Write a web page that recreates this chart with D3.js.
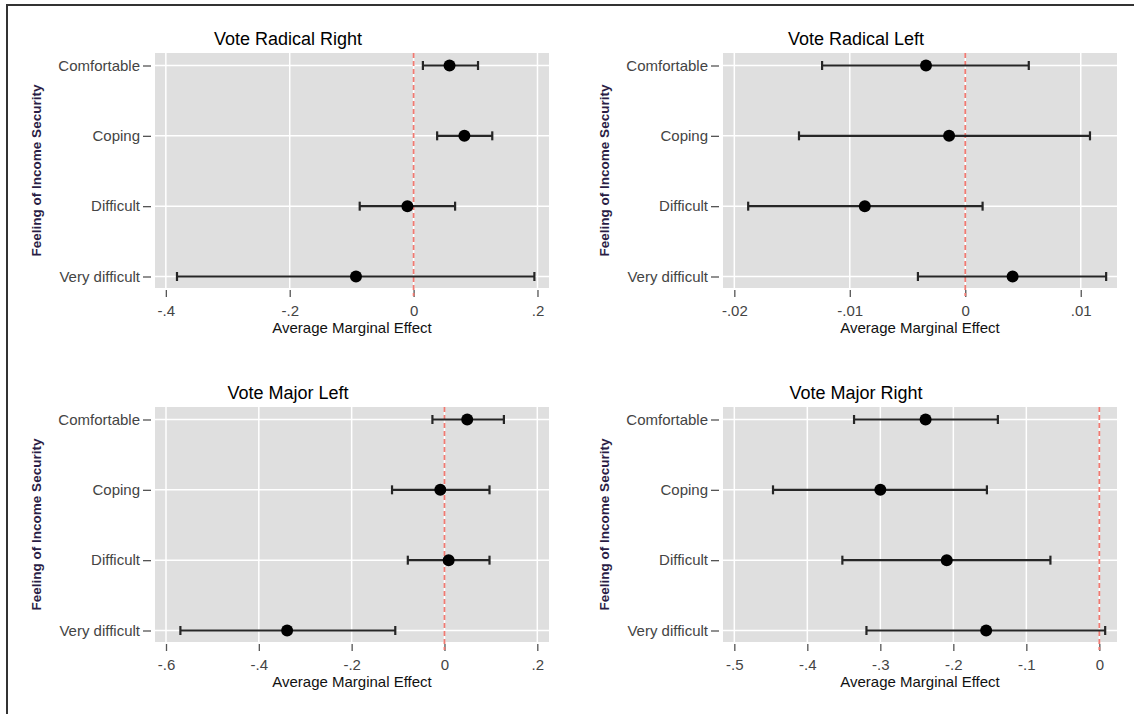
<!DOCTYPE html>
<html>
<head>
<meta charset="utf-8">
<script src="https://cdn.jsdelivr.net/npm/d3@7"></script>
<style>
  html, body { margin: 0; padding: 0; background: #fff; }
  svg { display: block; font-family: "Liberation Sans", Arial, sans-serif; }
</style>
</head>
<body>
<svg id="chart" width="1134" height="714"></svg>
<script>
// ---------- data ----------
const categories = ["Comfortable", "Coping", "Difficult", "Very difficult"];
const panelTitles = ["Vote Radical Right", "Vote Radical Left", "Vote Major Left", "Vote Major Right"];
const yAxisTitle = "Feeling of Income Security";
const xAxisTitle = "Average Marginal Effect";

// Vote Radical Right
const rrEst = [0.058, 0.082, -0.010, -0.093];
const rrLo  = [0.015, 0.038, -0.087, -0.382];
const rrHi  = [0.104, 0.127, 0.067, 0.195];
const rrTicks = [-0.4, -0.2, 0, 0.2];
const rrTickLabels = ["-.4", "-.2", "0", ".2"];
const rrDomain = [-0.4175, 0.2186];

// Vote Radical Left
const rlEst = [-0.0034, -0.0014, -0.0087, 0.0041];
const rlLo  = [-0.0124, -0.0144, -0.0188, -0.0041];
const rlHi  = [0.0055, 0.0108, 0.0015, 0.0122];
const rlTicks = [-0.02, -0.01, 0, 0.01];
const rlTickLabels = ["-.02", "-.01", "0", ".01"];
const rlDomain = [-0.02098, 0.01314];

// Vote Major Left
const mlEst = [0.049, -0.009, 0.009, -0.339];
const mlLo  = [-0.026, -0.113, -0.079, -0.569];
const mlHi  = [0.128, 0.097, 0.097, -0.106];
const mlTicks = [-0.6, -0.4, -0.2, 0, 0.2];
const mlTickLabels = ["-.6", "-.4", "-.2", "0", ".2"];
const mlDomain = [-0.6237, 0.2252];

// Vote Major Right
const mrEst = [-0.238, -0.300, -0.209, -0.155];
const mrLo  = [-0.336, -0.447, -0.352, -0.319];
const mrHi  = [-0.139, -0.154, -0.067, 0.008];
const mrTicks = [-0.5, -0.4, -0.3, -0.2, -0.1, 0];
const mrTickLabels = ["-.5", "-.4", "-.3", "-.2", "-.1", "0"];
const mrDomain = [-0.5155, 0.0242];

// ---------- layout ----------
const svg = d3.select("#chart");

// outer frame (left and top visible)
svg.append("rect")
  .attr("x", 7).attr("y", 5).attr("width", 1140).attr("height", 720)
  .attr("fill", "none").attr("stroke", "#333").attr("stroke-width", 2);

const panels = [
  { title: panelTitles[0], est: rrEst, lo: rrLo, hi: rrHi, ticks: rrTicks, labels: rrTickLabels, domain: rrDomain, ox: 0,   oy: 0 },
  { title: panelTitles[1], est: rlEst, lo: rlLo, hi: rlHi, ticks: rlTicks, labels: rlTickLabels, domain: rlDomain, ox: 568, oy: 0 },
  { title: panelTitles[2], est: mlEst, lo: mlLo, hi: mlHi, ticks: mlTicks, labels: mlTickLabels, domain: mlDomain, ox: 0,   oy: 354 },
  { title: panelTitles[3], est: mrEst, lo: mrLo, hi: mrHi, ticks: mrTicks, labels: mrTickLabels, domain: mrDomain, ox: 568, oy: 354 }
];

const bg = { left: 155, right: 549, top: 53, bottom: 288 };

panels.forEach(p => {
  const g = svg.append("g").attr("transform", `translate(${p.ox},${p.oy})`);
  const x = d3.scaleLinear().domain(p.domain).range([bg.left, bg.right]);
  const y = d3.scalePoint().domain(categories).range([bg.top + 12.5, bg.bottom - 11.5]);

  // plot background
  g.append("rect")
    .attr("x", bg.left).attr("y", bg.top)
    .attr("width", bg.right - bg.left).attr("height", bg.bottom - bg.top)
    .attr("fill", "#dfdfdf");

  // vertical grid lines
  g.selectAll("line.vgrid").data(p.ticks).enter().append("line")
    .attr("x1", d => x(d)).attr("x2", d => x(d))
    .attr("y1", bg.top).attr("y2", bg.bottom)
    .attr("stroke", "#fff").attr("stroke-width", 1.5);

  // horizontal grid lines
  g.selectAll("line.hgrid").data(categories).enter().append("line")
    .attr("x1", bg.left).attr("x2", bg.right)
    .attr("y1", d => y(d)).attr("y2", d => y(d))
    .attr("stroke", "#fff").attr("stroke-width", 1.5);

  // x axis
  const xAxis = d3.axisBottom(x)
    .tickValues(p.ticks)
    .tickFormat((d, i) => p.labels[i])
    .tickSize(7).tickSizeOuter(0).tickPadding(8);
  const xg = g.append("g").attr("transform", `translate(0,${bg.bottom + 2})`).call(xAxis);
  xg.select(".domain").remove();
  xg.selectAll(".tick line").attr("stroke", "#555").attr("stroke-width", 1.3);
  xg.selectAll(".tick text").attr("fill", "#444").attr("font-size", 15)
    .attr("font-family", "Liberation Sans, Arial, sans-serif");

  // y axis
  const yAxis = d3.axisLeft(y).tickSize(8).tickSizeOuter(0).tickPadding(3);
  const yg = g.append("g").attr("transform", `translate(${bg.left - 4},0)`).call(yAxis);
  yg.select(".domain").remove();
  yg.selectAll(".tick line").attr("stroke", "#555").attr("stroke-width", 1.3);
  yg.selectAll(".tick text").attr("fill", "#444").attr("font-size", 15)
    .attr("font-family", "Liberation Sans, Arial, sans-serif");

  // reference line at zero
  g.append("line")
    .attr("x1", x(0)).attr("x2", x(0))
    .attr("y1", bg.top).attr("y2", bg.bottom + 8)
    .attr("stroke", "#f07a72").attr("stroke-width", 1.8)
    .attr("stroke-dasharray", "5,3");

  // error bars
  const rows = categories.map((c, i) => ({ c, est: p.est[i], lo: p.lo[i], hi: p.hi[i] }));
  g.selectAll("line.ci").data(rows).enter().append("line")
    .attr("x1", d => x(d.lo)).attr("x2", d => x(d.hi))
    .attr("y1", d => y(d.c)).attr("y2", d => y(d.c))
    .attr("stroke", "#262626").attr("stroke-width", 2.2);
  ["lo", "hi"].forEach(k => {
    g.selectAll("line.cap" + k).data(rows).enter().append("line")
      .attr("x1", d => x(d[k])).attr("x2", d => x(d[k]))
      .attr("y1", d => y(d.c) - 4.5).attr("y2", d => y(d.c) + 4.5)
      .attr("stroke", "#262626").attr("stroke-width", 2.2);
  });
  g.selectAll("circle.pt").data(rows).enter().append("circle")
    .attr("cx", d => x(d.est)).attr("cy", d => y(d.c)).attr("r", 6)
    .attr("fill", "#000");

  // titles
  g.append("text")
    .attr("x", 288).attr("y", bg.top - 8)
    .attr("text-anchor", "middle").attr("font-size", 18).attr("fill", "#000")
    .text(p.title);
  g.append("text")
    .attr("x", (bg.left + bg.right) / 2).attr("y", bg.bottom + 45)
    .attr("text-anchor", "middle").attr("font-size", 15).attr("fill", "#111")
    .text(xAxisTitle);
  g.append("text")
    .attr("transform", `translate(41,${(bg.top + bg.bottom) / 2}) rotate(-90)`)
    .attr("text-anchor", "middle").attr("font-size", 13.5).attr("font-weight", "bold")
    .attr("fill", "#2a1d45")
    .text(yAxisTitle);
});
</script>
</body>
</html>
